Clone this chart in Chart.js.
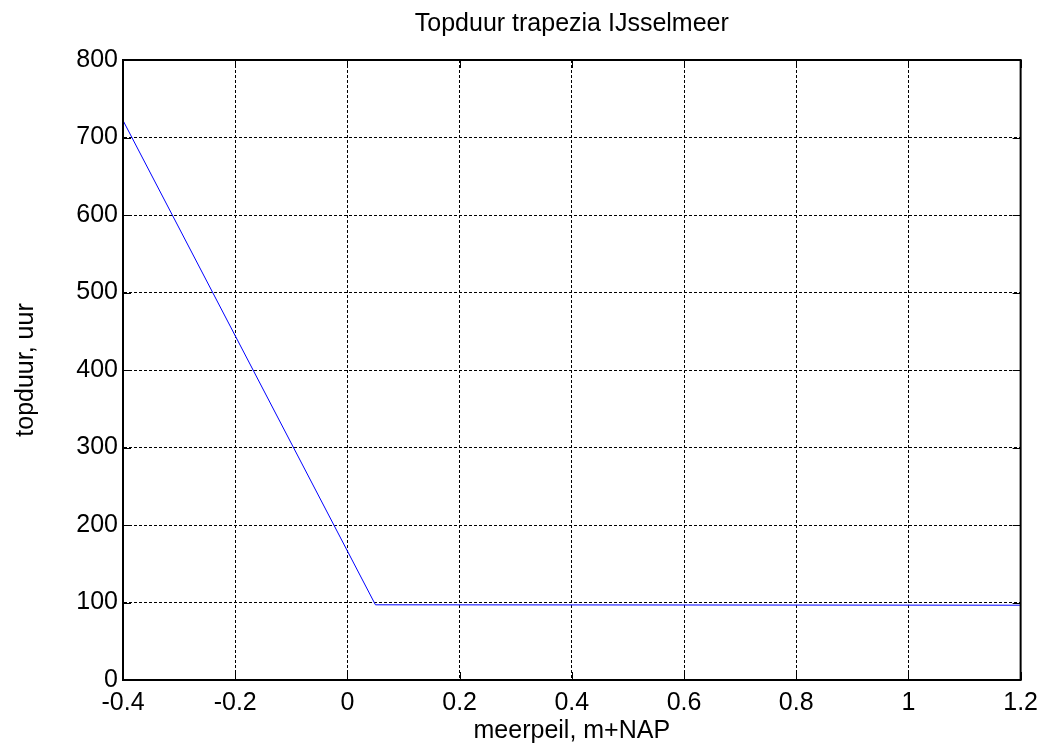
<!DOCTYPE html>
<html>
<head>
<meta charset="utf-8">
<script src="https://cdn.jsdelivr.net/npm/chart.js@4"></script>
<style>
  html, body { margin: 0; padding: 0; background: #fff; }
  #wrap { width: 1046px; height: 754px; }
</style>
</head>
<body>
<div id="wrap"><canvas id="c" width="1046" height="754"></canvas></div>
<script>
// meerpeil (m+NAP) vs topduur (uur)
const meerpeil = [-0.4, 0.05, 1.2];
const topduur = [722, 97, 96.5];
const xTicks = [-0.4, -0.2, 0, 0.2, 0.4, 0.6, 0.8, 1, 1.2];
const yTicks = [0, 100, 200, 300, 400, 500, 600, 700, 800];
const chartTitle = 'Topduur trapezia IJsselmeer';

const FONT = 'Liberation Sans, Arial, sans-serif';
const FS = 25;

// matlab style: box, inward tick marks, title centred over the axes
const matlabBox = {
    id: 'matlabBox',
    afterDatasetsDraw(chart) {
        const { ctx, chartArea: a, scales } = chart;
        const len = 8;
        ctx.save();
        ctx.strokeStyle = '#000';
        ctx.lineWidth = 1;
        ctx.beginPath();
        scales.x.ticks.forEach(t => {
            const px = Math.round(scales.x.getPixelForValue(t.value)) + 0.5;
            ctx.moveTo(px, a.bottom); ctx.lineTo(px, a.bottom - len);
            ctx.moveTo(px, a.top); ctx.lineTo(px, a.top + len);
        });
        scales.y.ticks.forEach(t => {
            const py = Math.round(scales.y.getPixelForValue(t.value)) + 0.5;
            ctx.moveTo(a.left, py); ctx.lineTo(a.left + len, py);
            ctx.moveTo(a.right, py); ctx.lineTo(a.right - len, py);
        });
        ctx.stroke();
        ctx.lineWidth = 2;
        ctx.strokeRect(a.left, a.top, a.right - a.left, a.bottom - a.top);

        ctx.fillStyle = '#000';
        ctx.font = FS + 'px ' + FONT;
        ctx.textAlign = 'center';
        ctx.textBaseline = 'middle';
        ctx.fillText(chartTitle, (a.left + a.right) / 2, 24);
        ctx.restore();
    }
};

new Chart(document.getElementById('c'), {
    type: 'scatter',
    data: {
        datasets: [{
            data: meerpeil.map((x, i) => ({ x, y: topduur[i] })),
            showLine: true,
            borderColor: '#0000ff',
            borderWidth: 1,
            pointRadius: 0,
            fill: false
        }]
    },
    options: {
        responsive: false,
        animation: false,
        layout: { padding: { left: 0, right: 24, top: 60, bottom: 0 } },
        plugins: {
            legend: { display: false },
            tooltip: { enabled: false },
            title: { display: false }
        },
        scales: {
            x: {
                type: 'linear',
                min: -0.4, max: 1.2,
                afterBuildTicks: s => { s.ticks = xTicks.map(v => ({ value: v })); },
                afterFit: s => { s.height = 74; },
                ticks: {
                    color: '#000',
                    font: { family: FONT, size: FS },
                    padding: 8,
                    maxRotation: 0,
                    callback: v => String(v)
                },
                grid: { color: '#000', lineWidth: 1, drawTicks: false },
                border: { display: true, color: '#000', width: 2, dash: [3, 2] },
                title: {
                    display: true,
                    text: 'meerpeil, m+NAP',
                    color: '#000',
                    font: { family: FONT, size: FS },
                    padding: { top: 8, bottom: 8 }
                }
            },
            y: {
                type: 'linear',
                min: 0, max: 800,
                afterBuildTicks: s => { s.ticks = yTicks.map(v => ({ value: v })); },
                afterFit: s => { s.width = 123; },
                ticks: {
                    color: '#000',
                    font: { family: FONT, size: FS },
                    padding: 5,
                    callback: v => String(v)
                },
                grid: { color: '#000', lineWidth: 1, drawTicks: false },
                border: { display: true, color: '#000', width: 2, dash: [3, 2] },
                title: {
                    display: true,
                    text: 'topduur, uur',
                    color: '#000',
                    font: { family: FONT, size: FS },
                    padding: { top: 11, bottom: 0 }
                }
            }
        }
    },
    plugins: [matlabBox]
});
</script>
</body>
</html>
